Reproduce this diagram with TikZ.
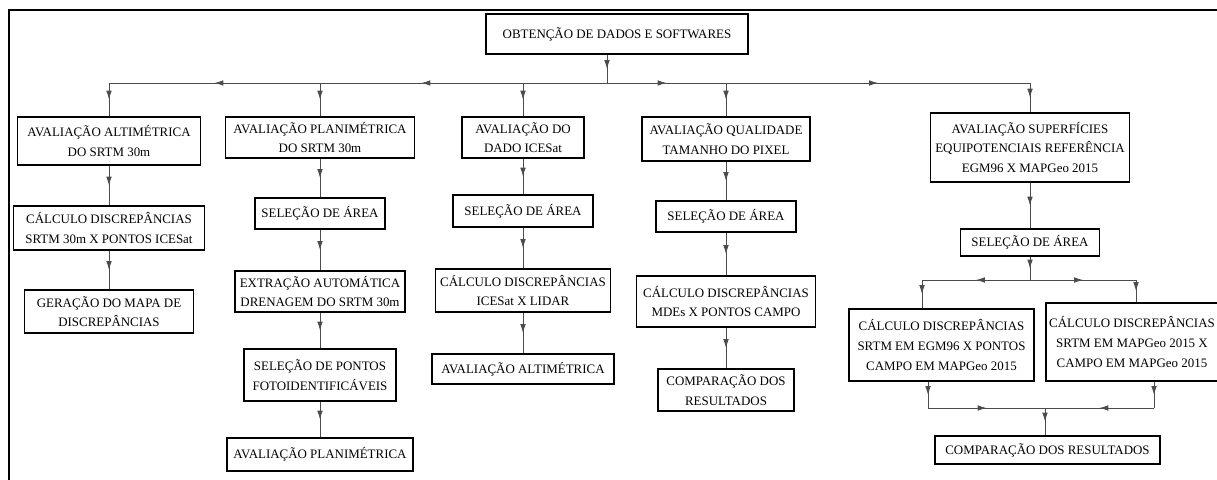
\documentclass[tikz,border=0pt]{standalone}
\usepackage{fontspec}
\setmainfont{Liberation Serif}
\usetikzlibrary{arrows.meta, decorations.markings}

\begin{document}
\begin{tikzpicture}[x=0.025cm, y=-0.025cm, >=Latex,
    box/.style={draw, line width=1.3pt, align=center, inner sep=1pt, font=\fontsize{9.2}{14}\selectfont},
    sz/.style 2 args={minimum width=#1*0.025cm, minimum height=#2*0.025cm},
    link/.style={line width=0.6pt, gray!60!black},
    midarrow/.style={link, postaction={decorate}, decoration={markings, mark=at position 0.5 with {\arrow{Latex[length=2.2mm,width=1.4mm]}}}}]

    % --- PARAMETERS ---
    \def\xA{109} \def\xB{320} \def\xC{523} \def\xD{726} \def\xE{1030}

    \useasboundingbox (0,0) rectangle (1217,480);
    \clip (0,0) rectangle (1217,480);

    % --- FRAME ---
    \draw[line width=1.2pt] (9,480) -- (9,10) -- (1230,10);

    % --- BOXES ---
    \node[box, sz={262}{40}] (Top) at (617,34) {OBTENÇÃO DE DADOS E SOFTWARES};

    \node[box, sz={183}{48}] (A1) at (\xA,141) {AVALIAÇÃO ALTIMÉTRICA\\DO SRTM 30m};
    \node[box, sz={191}{44}] (A2) at (\xA,228) {CÁLCULO DISCREPÂNCIAS\\SRTM 30m X PONTOS ICESat};
    \node[box, sz={169}{43}] (A3) at (\xA,311.5) {GERAÇÃO DO MAPA DE\\DISCREPÂNCIAS};

    \node[box, sz={189}{41}] (B1) at (\xB,137.5) {AVALIAÇÃO PLANIMÉTRICA\\DO SRTM 30m};
    \node[box, sz={130}{31}] (B2) at (\xB,213.5) {SELEÇÃO DE ÁREA};
    \node[box, sz={170}{41}] (B3) at (\xB,291.5) {EXTRAÇÃO AUTOMÁTICA\\DRENAGEM DO SRTM 30m};
    \node[box, sz={152}{52}] (B4) at (\xB,375) {SELEÇÃO DE PONTOS\\FOTOIDENTIFICÁVEIS};
    \node[box, sz={186}{33}] (B5) at (\xB,454.5) {AVALIAÇÃO PLANIMÉTRICA};

    \node[box, sz={122}{41}] (C1) at (\xC,137.5) {AVALIAÇÃO DO\\DADO ICESat};
    \node[box, sz={140}{32}] (C2) at (\xC,211) {SELEÇÃO DE ÁREA};
    \node[box, sz={175}{43}] (C3) at (\xC,290.5) {CÁLCULO DISCREPÂNCIAS\\ICESat X LIDAR};
    \node[box, sz={182}{30}] (C4) at (\xC,369) {AVALIAÇÃO ALTIMÉTRICA};

    \node[box, sz={168}{44}] (D1) at (\xD,139) {AVALIAÇÃO QUALIDADE\\TAMANHO DO PIXEL};
    \node[box, sz={140}{31}] (D2) at (\xD,216.5) {SELEÇÃO DE ÁREA};
    \node[box, sz={179}{51}] (D3) at (\xD,301.5) {CÁLCULO DISCREPÂNCIAS\\MDEs X PONTOS CAMPO};
    \node[box, sz={136}{42}] (D4) at (\xD,390) {COMPARAÇÃO DOS\\RESULTADOS};

    \node[box, sz={199}{69}] (E1) at (\xE,147.5) {AVALIAÇÃO SUPERFÍCIES\\EQUIPOTENCIAIS REFERÊNCIA\\EGM96 X MAPGeo 2015};
    \node[box, sz={139}{27}] (E2) at (\xE,242.5) {SELEÇÃO DE ÁREA};
    \node[box, sz={185}{72}] (E3) at (941.5,345) {CÁLCULO DISCREPÂNCIAS\\SRTM EM EGM96 X PONTOS\\CAMPO EM MAPGeo 2015};
    \node[box, sz={172}{78}] (E4) at (1132,342) {CÁLCULO DISCREPÂNCIAS\\SRTM EM MAPGeo 2015 X\\CAMPO EM MAPGeo 2015};
    \node[box, sz={225}{28}] (E5) at (1047.5,450) {COMPARAÇÃO DOS RESULTADOS};

    % --- BRANCH POINTS ---
    \coordinate (Hub) at (607,83);
    \coordinate (Br_A) at (\xA,83);
    \coordinate (Br_B) at (\xB,83);
    \coordinate (Br_C) at (\xC,83);
    \coordinate (Br_D) at (\xD,83);
    \coordinate (Br_E) at (\xE,83);
    \coordinate (Split_M) at (\xE,280);
    \coordinate (Split_L) at (922,280);
    \coordinate (Split_R) at (1136,280);
    \coordinate (Join_L) at (928,408);
    \coordinate (Join_M) at (1045,408);
    \coordinate (Join_R) at (1154,408);

    % --- CONNECTORS ---
    \draw[midarrow] (Top.south -| Hub) -- (Hub);
    \draw[link] (Hub) -- (Br_C);
    \draw[midarrow] (Br_C) -- (Br_B);
    \draw[midarrow] (Br_B) -- (Br_A);
    \draw[midarrow] (Hub) -- (Br_D);
    \draw[midarrow] (Br_D) -- (Br_E);

    \foreach \col in {A,B,C,D,E}
        \draw[midarrow] (Br_\col) -- (\col1.north);

    \draw[midarrow] (A1) -- (A2);
    \draw[midarrow] (A2) -- (A3);
    \draw[midarrow] (B1) -- (B2);
    \draw[midarrow] (B2) -- (B3);
    \draw[midarrow] (B3) -- (B4);
    \draw[midarrow] (B4) -- (B5);
    \draw[midarrow] (C1) -- (C2);
    \draw[midarrow] (C2) -- (C3);
    \draw[midarrow] (C3) -- (C4);
    \draw[midarrow] (D1) -- (D2);
    \draw[midarrow] (D2) -- (D3);
    \draw[midarrow] (D3) -- (D4);
    \draw[midarrow] (E1) -- (E2);

    % split and join
    \draw[midarrow] (E2.south) -- (Split_M);
    \draw[midarrow] (Split_M) -- (Split_L);
    \draw[midarrow] (Split_M) -- (Split_R);
    \draw[midarrow] (Split_L) -- (Split_L |- E3.north);
    \draw[midarrow] (Split_R) -- (Split_R |- E4.north);
    \draw[midarrow] (E3.south -| Join_L) -- (Join_L);
    \draw[midarrow] (E4.south -| Join_R) -- (Join_R);
    \draw[midarrow] (Join_L) -- (Join_M);
    \draw[midarrow] (Join_R) -- (Join_M);
    \draw[midarrow] (Join_M) -- (Join_M |- E5.north);

\end{tikzpicture}
\end{document}
